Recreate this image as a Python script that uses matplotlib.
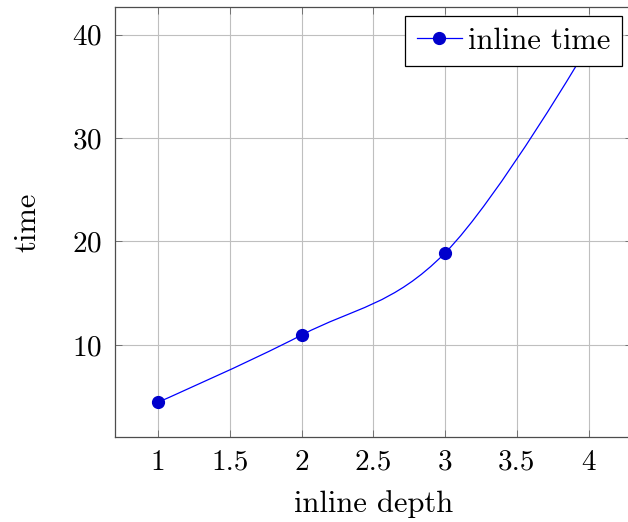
import numpy as np
import matplotlib
matplotlib.use("Agg")
import matplotlib.pyplot as plt
from matplotlib.path import Path
from matplotlib.patches import PathPatch
from matplotlib.lines import Line2D

# data
depth = [1, 2, 3, 4]
inline_time = [4.45, 10.95, 18.9, 39.0]
x_ticks = [1, 1.5, 2, 2.5, 3, 3.5, 4]
x_tick_labels = ["1", "1.5", "2", "2.5", "3", "3.5", "4"]
y_ticks = [10, 20, 30, 40]

plt.rcParams['font.family'] = 'serif'
plt.rcParams['font.serif'] = ['cmr10']
plt.rcParams['mathtext.fontset'] = 'cm'
plt.rcParams['axes.formatter.use_mathtext'] = True

blue = (0, 0, 1)
mark_blue = (0, 0, 0.8)


def smooth_path(xs, ys, tension=0.183):
    # pgfplots-like "smooth" curve: cubic bezier segments
    pts = np.column_stack([xs, ys]).astype(float)
    n = len(pts)
    verts = [pts[0]]
    codes = [Path.MOVETO]
    for i in range(n - 1):
        p0, p1 = pts[i], pts[i + 1]
        c1 = p0 if i == 0 else p0 + tension * (pts[i + 1] - pts[i - 1])
        c2 = p1 if i == n - 2 else p1 - tension * (pts[i + 2] - pts[i])
        verts += [c1, c2, p1]
        codes += [Path.CURVE4] * 3
    return Path(verts, codes)


fig = plt.figure(figsize=(6.28, 5.22), dpi=100)
ax = fig.add_axes([0.183, 0.163, 0.823, 0.824])

ax.add_patch(PathPatch(smooth_path(depth, inline_time), fill=False,
                       edgecolor=blue, lw=0.9, zorder=3))
ax.plot(depth, inline_time, ls='none', marker='o', ms=8.5,
        color=mark_blue, mec=mark_blue, zorder=4)

ax.set_xlim(0.7, 4.3)
ax.set_ylim(1.1, 42.7)
ax.set_xticks(x_ticks)
ax.set_xticklabels(x_tick_labels)
ax.set_yticks(y_ticks)
ax.tick_params(direction='in', length=5, width=0.6, color='0.4',
               labelsize=21, top=True, right=True, pad=9)
ax.grid(True, color='0.75', lw=0.8)
ax.set_axisbelow(True)
for s in ax.spines.values():
    s.set_color('0.3')
    s.set_linewidth(0.9)

ax.set_xlabel("inline depth", fontsize=22, labelpad=10)
ax.set_ylabel("time", fontsize=22, labelpad=22)

handle = Line2D([], [], color=blue, lw=0.9, marker='o', ms=8.5,
                mfc=mark_blue, mec=mark_blue)
leg = ax.legend([handle], ["inline time"], loc='upper right', fontsize=22,
                fancybox=False, framealpha=1, edgecolor='black',
                borderpad=0.38, handlelength=1.47, handletextpad=0.2,
                borderaxespad=0, bbox_to_anchor=(0.981, 0.979))
leg.get_frame().set_linewidth(0.9)

fig.savefig("out.png", dpi=100)
